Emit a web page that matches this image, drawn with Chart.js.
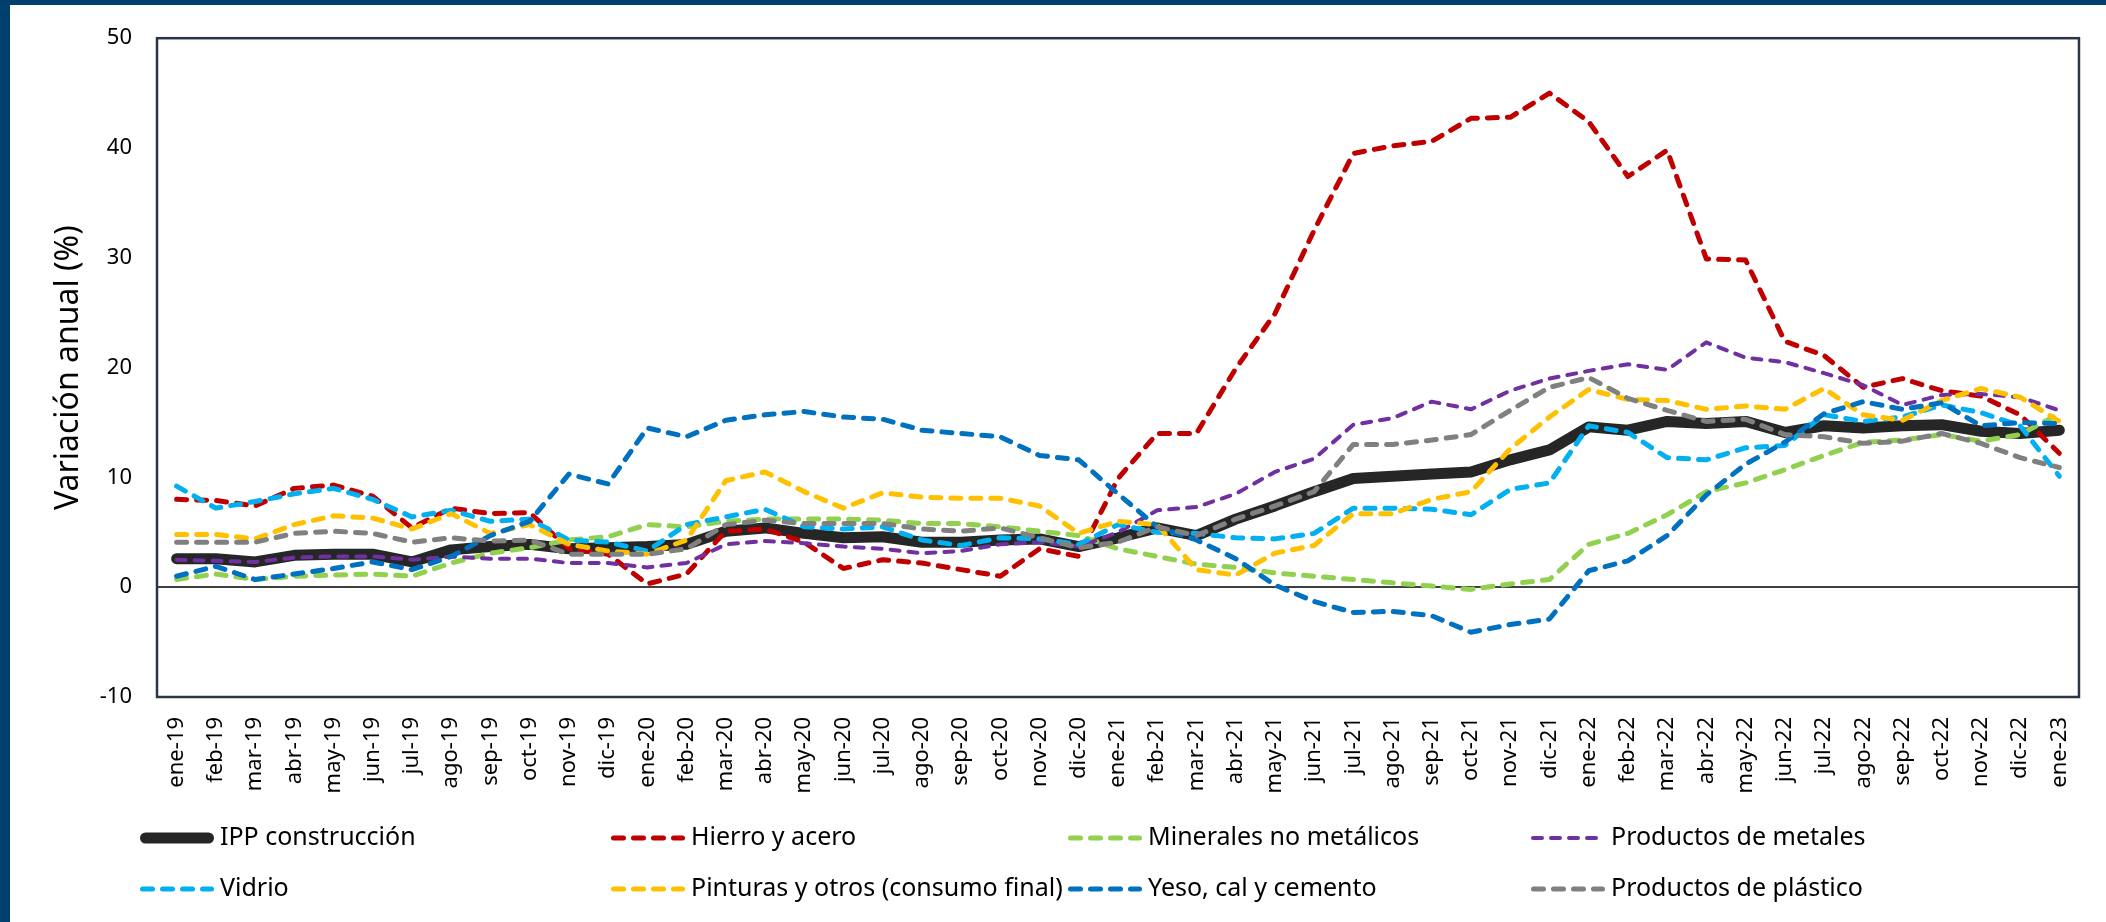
<!DOCTYPE html>
<html>
<head>
<meta charset="utf-8">
<script src="https://cdn.jsdelivr.net/npm/chart.js"></script>
<style>
  html, body { margin: 0; padding: 0; background: #fff; }
</style>
</head>
<body>
<canvas id="ippChart" width="2106" height="922"></canvas>
<script>
const meses = ['ene-19','feb-19','mar-19','abr-19','may-19','jun-19','jul-19','ago-19','sep-19','oct-19','nov-19','dic-19',
  'ene-20','feb-20','mar-20','abr-20','may-20','jun-20','jul-20','ago-20','sep-20','oct-20','nov-20','dic-20',
  'ene-21','feb-21','mar-21','abr-21','may-21','jun-21','jul-21','ago-21','sep-21','oct-21','nov-21','dic-21',
  'ene-22','feb-22','mar-22','abr-22','may-22','jun-22','jul-22','ago-22','sep-22','oct-22','nov-22','dic-22','ene-23'];

const ippConstruccion = [2.6, 2.6, 2.3, 2.9, 3.0, 3.0, 2.3, 3.4, 3.7, 3.9, 3.5, 3.6,
  3.7, 3.9, 5.1, 5.4, 4.9, 4.5, 4.6, 4.1, 4.1, 4.3, 4.4, 3.7,
  4.5, 5.4, 4.7, 6.2, 7.4, 8.7, 9.9, 10.1, 10.3, 10.5, 11.6, 12.5,
  14.6, 14.3, 15.1, 14.9, 15.1, 14.1, 14.7, 14.5, 14.7, 14.8, 14.2, 14.0, 14.3];
const hierroAcero = [8.0, 7.9, 7.4, 9.0, 9.3, 8.3, 5.4, 7.2, 6.7, 6.8, 3.5, 3.0,
  0.3, 1.2, 5.1, 5.3, 4.1, 1.7, 2.5, 2.2, 1.6, 1.0, 3.5, 2.8,
  9.9, 14.0, 14.0, 19.9, 24.9, 32.5, 39.5, 40.2, 40.6, 42.7, 42.8, 45.0,
  42.4, 37.4, 39.8, 29.9, 29.8, 22.4, 21.1, 18.2, 19.0, 17.9, 17.4, 15.7, 12.2];
const minerales = [0.7, 1.2, 0.7, 1.0, 1.1, 1.2, 1.0, 2.2, 3.1, 3.6, 4.3, 4.6,
  5.7, 5.5, 6.0, 6.2, 6.2, 6.2, 6.1, 5.8, 5.8, 5.5, 5.1, 4.7,
  3.5, 2.8, 2.1, 1.8, 1.3, 1.0, 0.7, 0.4, 0.1, -0.2, 0.3, 0.7,
  3.9, 4.9, 6.6, 8.7, 9.5, 10.7, 12.0, 13.2, 13.4, 13.9, 13.3, 13.9, 15.8];
const metales = [2.5, 2.4, 2.3, 2.7, 2.8, 2.8, 2.5, 2.8, 2.6, 2.6, 2.2, 2.2,
  1.8, 2.2, 3.9, 4.2, 4.0, 3.7, 3.5, 3.1, 3.3, 3.9, 4.1, 3.7,
  5.0, 7.0, 7.3, 8.5, 10.5, 11.7, 14.8, 15.4, 16.9, 16.2, 17.9, 19.0,
  19.7, 20.3, 19.8, 22.3, 20.9, 20.5, 19.5, 18.4, 16.6, 17.5, 17.6, 17.3, 16.1];
const vidrio = [9.2, 7.2, 7.8, 8.5, 9.0, 8.0, 6.4, 7.0, 6.0, 6.2, 4.3, 4.1,
  3.3, 5.7, 6.4, 7.1, 5.5, 5.3, 5.5, 4.3, 3.8, 4.5, 4.4, 3.9,
  5.7, 5.0, 4.9, 4.5, 4.4, 4.9, 7.2, 7.2, 7.1, 6.6, 8.9, 9.5,
  14.7, 14.1, 11.8, 11.6, 12.7, 12.9, 15.7, 15.1, 15.5, 16.6, 15.9, 14.7, 10.1];
const pinturas = [4.8, 4.8, 4.4, 5.7, 6.5, 6.3, 5.3, 6.7, 4.9, 5.7, 3.9, 3.3,
  3.0, 4.3, 9.7, 10.5, 8.7, 7.2, 8.6, 8.2, 8.1, 8.1, 7.4, 4.9,
  6.0, 5.7, 1.6, 1.1, 3.1, 3.8, 6.7, 6.7, 8.0, 8.7, 12.6, 15.5,
  18.0, 17.1, 17.0, 16.2, 16.5, 16.2, 18.1, 15.7, 15.2, 17.0, 18.1, 17.3, 15.1];
const yesoCalCemento = [1.0, 1.9, 0.7, 1.2, 1.7, 2.3, 1.6, 2.8, 4.7, 6.0, 10.3, 9.4,
  14.5, 13.7, 15.2, 15.7, 16.0, 15.5, 15.3, 14.3, 14.0, 13.7, 12.0, 11.6,
  8.5, 5.5, 4.3, 2.6, 0.2, -1.3, -2.3, -2.2, -2.6, -4.1, -3.4, -2.9,
  1.5, 2.4, 4.7, 8.4, 11.2, 13.2, 15.8, 16.9, 16.2, 16.8, 14.7, 15.0, 14.9];
const plastico = [4.1, 4.1, 4.1, 4.9, 5.1, 4.9, 4.1, 4.5, 4.2, 4.3, 3.0, 3.0,
  3.0, 3.5, 5.7, 6.1, 5.8, 5.8, 5.8, 5.3, 5.1, 5.4, 4.5, 3.6,
  4.1, 5.5, 4.7, 6.2, 7.4, 8.7, 13.0, 13.0, 13.4, 13.9, 16.1, 18.2,
  19.1, 17.2, 16.1, 15.1, 15.3, 13.9, 13.7, 13.1, 13.3, 14.0, 13.1, 11.8, 10.9];

const fuente = "'Noto Sans', sans-serif";
Chart.defaults.font.family = fuente;
Chart.defaults.color = '#000';

function serie(label, data, color, order, width, dash) {
  return {
    label: label,
    data: data,
    borderColor: color,
    backgroundColor: color,
    borderWidth: width,
    borderDash: dash,
    borderCapStyle: 'round',
    borderJoinStyle: 'round',
    pointRadius: 0,
    tension: 0,
    fill: false,
    order: order
  };
}

// marco azul, borde del area de trazado y leyenda en dos filas
const marco = {
  id: 'marco',
  beforeDraw(chart) {
    const ctx = chart.ctx;
    ctx.save();
    ctx.fillStyle = '#fff';
    ctx.fillRect(0, 0, chart.width, chart.height);
    ctx.fillStyle = '#003F6E';
    ctx.fillRect(0, 0, 10, chart.height);
    ctx.fillRect(0, 0, chart.width, 5);
    ctx.restore();
  },
  afterDraw(chart) {
    const ctx = chart.ctx;
    const a = chart.chartArea;
    ctx.save();
    ctx.strokeStyle = '#2B3548';
    ctx.lineWidth = 2.5;
    ctx.strokeRect(a.left, a.top, a.right - a.left, a.bottom - a.top);

    const cols = [140, 611, 1068, 1531];
    const rows = [838, 889];
    chart.data.datasets.forEach((ds, i) => {
      const x = cols[i % 4];
      const y = rows[Math.floor(i / 4)];
      const w = ds.borderWidth;
      ctx.strokeStyle = ds.borderColor;
      ctx.lineWidth = w;
      ctx.lineCap = 'round';
      ctx.setLineDash(ds.borderDash || []);
      ctx.beginPath();
      ctx.moveTo(x + w / 2, y);
      ctx.lineTo(x + 74 - w / 2, y);
      ctx.stroke();
      ctx.setLineDash([]);
      ctx.fillStyle = '#000';
      ctx.font = '25px ' + fuente;
      ctx.textBaseline = 'middle';
      ctx.fillText(ds.label, x + 80, y);
    });
    ctx.restore();
  }
};

new Chart(document.getElementById('ippChart'), {
  type: 'line',
  data: {
    labels: meses,
    datasets: [
      serie('IPP construcción', ippConstruccion, '#262626', 8, 11, []),
      serie('Hierro y acero', hierroAcero, '#C00000', 7, 5, [10, 10]),
      serie('Minerales no metálicos', minerales, '#92D050', 6, 5, [10, 10]),
      serie('Productos de metales', metales, '#7030A0', 5, 4, [9, 9]),
      serie('Vidrio', vidrio, '#00B0F0', 4, 5, [10, 10]),
      serie('Pinturas y otros (consumo final)', pinturas, '#FFC000', 3, 5, [10, 10]),
      serie('Yeso, cal y cemento', yesoCalCemento, '#0070C0', 2, 5, [10, 10]),
      serie('Productos de plástico', plastico, '#808080', 1, 5, [10, 10])
    ]
  },
  options: {
    responsive: false,
    animation: false,
    layout: {
      padding: { left: 0, top: 34, right: 24, bottom: 110 }
    },
    plugins: {
      legend: { display: false },
      tooltip: { enabled: false }
    },
    scales: {
      x: {
        offset: true,
        grid: { display: false, drawTicks: false },
        border: { display: false },
        ticks: {
          autoSkip: false,
          maxRotation: 90,
          minRotation: 90,
          padding: 20,
          font: { size: 22 }
        },
        afterFit(scale) { scale.height = 115; }
      },
      y: {
        min: -10,
        max: 50,
        grid: {
          drawTicks: false,
          lineWidth: 2,
          color: (c) => c.tick && c.tick.value === 0 ? '#404040' : 'rgba(0,0,0,0)'
        },
        border: { display: false },
        ticks: {
          stepSize: 10,
          padding: 25,
          font: { size: 22 }
        },
        title: {
          display: true,
          text: 'Variación anual (%)',
          font: { size: 32 },
          padding: { top: 50, bottom: 0 }
        },
        afterFit(scale) { scale.width = 157; }
      }
    }
  },
  plugins: [marco]
});
</script>
</body>
</html>
